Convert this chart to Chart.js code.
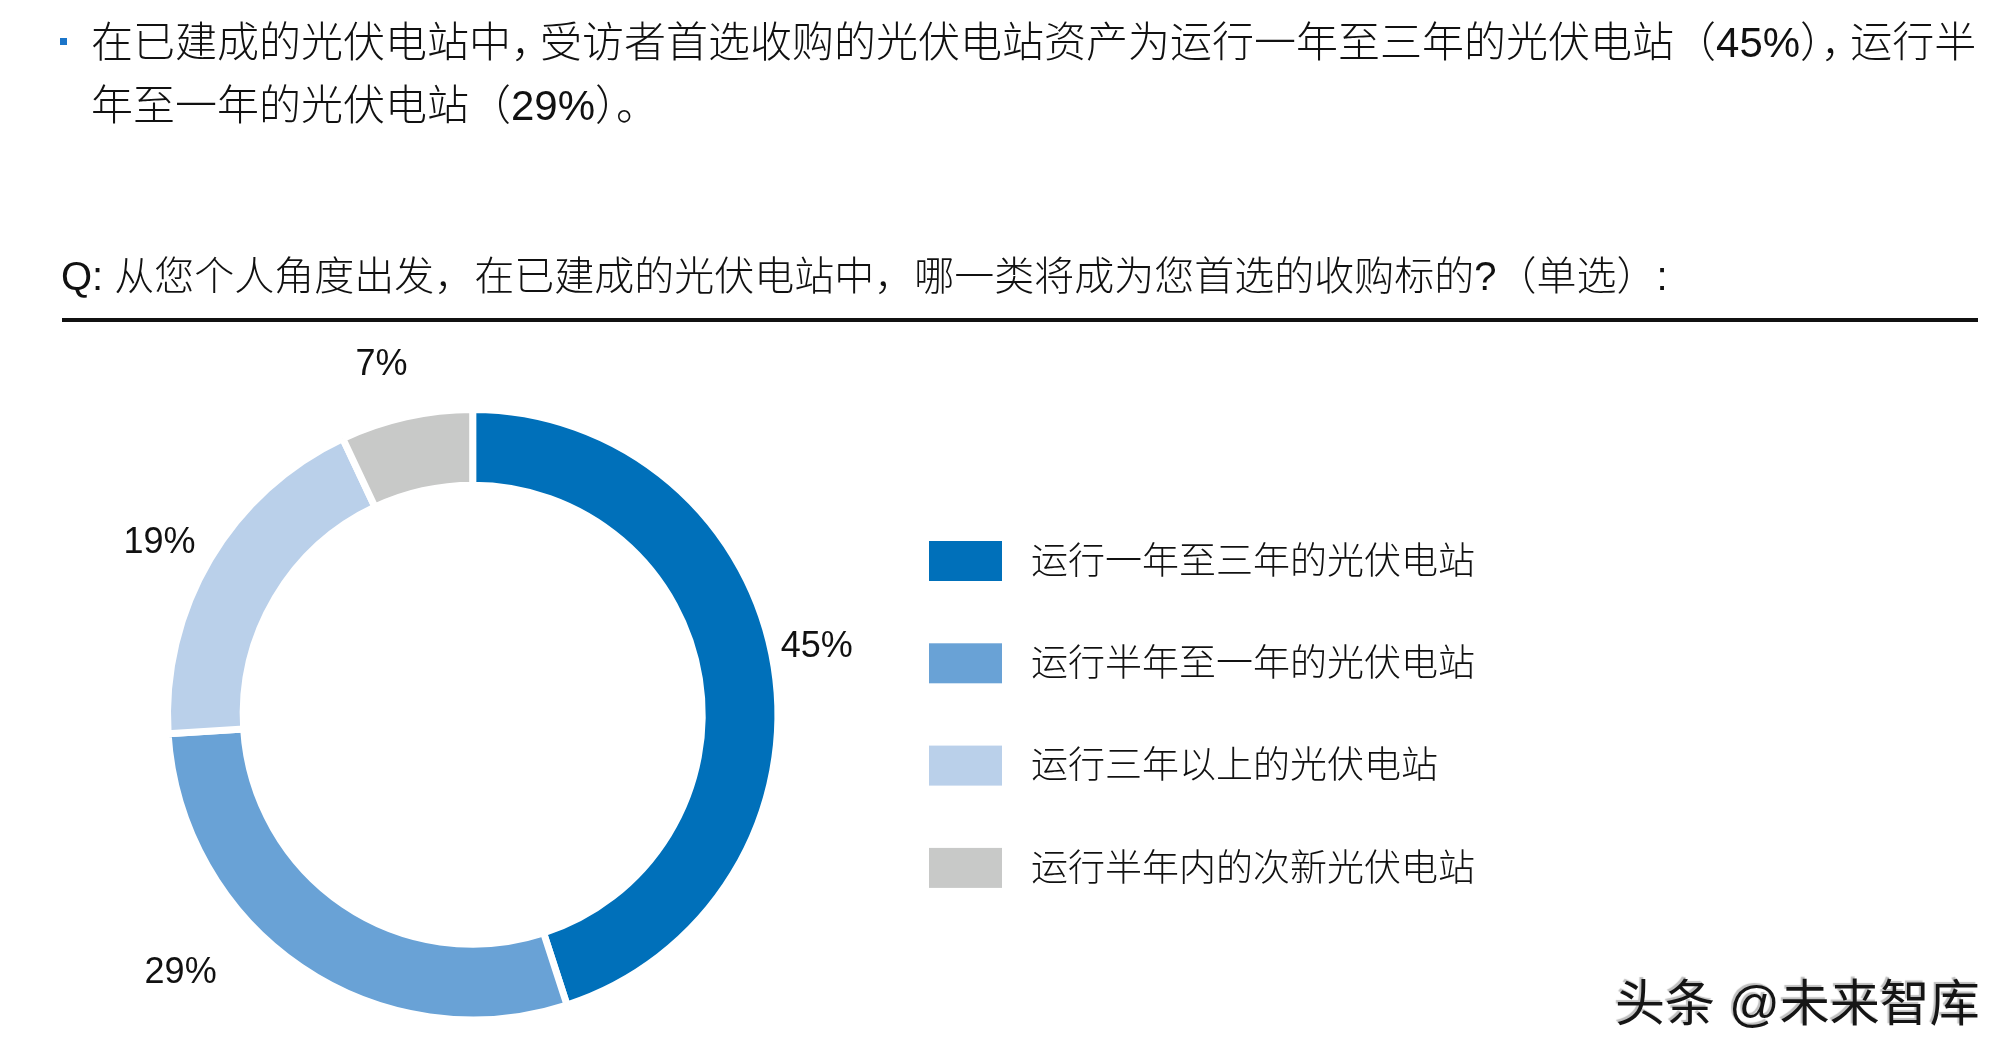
<!DOCTYPE html>
<html lang="zh-CN">
<head>
<meta charset="utf-8">
<title>光伏电站收购偏好</title>
<script src="https://cdn.jsdelivr.net/npm/chart.js@4.4.1/dist/chart.umd.min.js"></script>
<style>
  html, body { margin: 0; padding: 0; background: #fff; }
  body { width: 2014px; height: 1060px; position: relative; overflow: hidden;
         font-family: "Liberation Sans", "Noto Sans CJK SC", sans-serif; font-weight: 300; color: #111; }
  #chart { position: absolute; left: 0; top: 0; width: 2014px; height: 1060px; }
  .txt { position: absolute; white-space: nowrap; }
  .h1 { font-size: 42px; line-height: 42px; left: 91px; }
  .narrow { margin-right: -13px; }
  .q { font-size: 40px; line-height: 40px; left: 61px; top: 256px; }
  .bullet { position: absolute; left: 60px; top: 38px; width: 7px; height: 7px; background: #1B75C9; }
  .rule { position: absolute; left: 62px; top: 318px; width: 1916px; height: 4px; background: #111; }
  .wm { font-size: 50px; line-height: 50px; left: 1615px; top: 979px; color: #151515; font-weight: 400;
        text-shadow: -2px -2px 1px rgba(0,0,0,0.25), 1px 1px 0 #fff; }
</style>
</head>
<body>
<canvas id="chart" width="2014" height="1060"></canvas>
<div class="bullet"></div>
<div class="txt h1" style="top:22px">在已建成的光伏电站中<span class="narrow">，</span>受访者首选收购的光伏电站资产为运行一年至三年的光伏电站（45%）<span class="narrow">，</span>运行半</div>
<div class="txt h1" style="top:85px">年至一年的光伏电站（29%）。</div>
<div class="txt q">Q: 从您个人角度出发，在已建成的光伏电站中，哪一类将成为您首选的收购标的?（单选）:</div>
<div class="rule"></div>
<div class="txt wm">头条 @未来智库</div>
<script>
// ---- data ----
const categories = ['运行一年至三年的光伏电站', '运行半年至一年的光伏电站', '运行三年以上的光伏电站', '运行半年内的次新光伏电站'];
const shares = [45, 29, 19, 7];

// ---- style ----
const sliceColors = ['#0070BA', '#69A2D6', '#BAD0EA', '#C8C9C8'];
const labelAngleShift = [-2.6, 14.6, -1.6, -1.9];   // degrees, label placement tweak
const labelGap = [46, 83, 53, 59];                  // px beyond the outer radius
const labelDy = 2.5;
const labelFont = '300 36px "Liberation Sans", "Noto Sans CJK SC", sans-serif';
const legendFont = '300 37px "Liberation Sans", "Noto Sans CJK SC", sans-serif';
const legendBox = { x: 929, y: 541, w: 73, h: 40, step: 102.3, textX: 1031, textDy: 2.5 };

const percentLabels = {
  id: 'percentLabels',
  afterDatasetsDraw(chart) {
    const ctx = chart.ctx;
    const meta = chart.getDatasetMeta(0);
    ctx.save();
    ctx.font = labelFont;
    ctx.fillStyle = '#111';
    ctx.textAlign = 'center';
    ctx.textBaseline = 'middle';
    meta.data.forEach((arc, i) => {
      const p = arc.getProps(['x', 'y', 'startAngle', 'endAngle', 'outerRadius'], true);
      const a = (p.startAngle + p.endAngle) / 2 + labelAngleShift[i] * Math.PI / 180;
      const r = p.outerRadius + labelGap[i];
      const v = chart.data.datasets[0].data[i];
      ctx.fillText(v + '%', p.x + Math.cos(a) * r, p.y + Math.sin(a) * r + labelDy);
    });
    ctx.restore();
  }
};

const sideLegend = {
  id: 'sideLegend',
  afterDraw(chart) {
    const ctx = chart.ctx;
    const ds = chart.data.datasets[0];
    ctx.save();
    ctx.font = legendFont;
    ctx.textAlign = 'left';
    ctx.textBaseline = 'middle';
    chart.data.labels.forEach((lab, i) => {
      const y = legendBox.y + i * legendBox.step;
      ctx.fillStyle = ds.backgroundColor[i];
      ctx.fillRect(legendBox.x, y, legendBox.w, legendBox.h);
      ctx.fillStyle = '#111';
      ctx.fillText(lab, legendBox.textX, y + legendBox.h / 2 + legendBox.textDy);
    });
    ctx.restore();
  }
};

new Chart(document.getElementById('chart'), {
  type: 'doughnut',
  data: {
    labels: categories,
    datasets: [{
      data: shares,
      backgroundColor: sliceColors,
      borderColor: '#ffffff',
      borderWidth: 7,
      hoverOffset: 0
    }]
  },
  options: {
    responsive: false,
    devicePixelRatio: 1,
    animation: false,
    events: [],
    radius: 305.2,
    cutout: '75.2%',
    layout: { padding: { left: 152.7, top: 394.7, right: 1221.3, bottom: 25.3 } },
    plugins: { legend: { display: false }, tooltip: { enabled: false }, title: { display: false } }
  },
  plugins: [percentLabels, sideLegend]
});
</script>
</body>
</html>
